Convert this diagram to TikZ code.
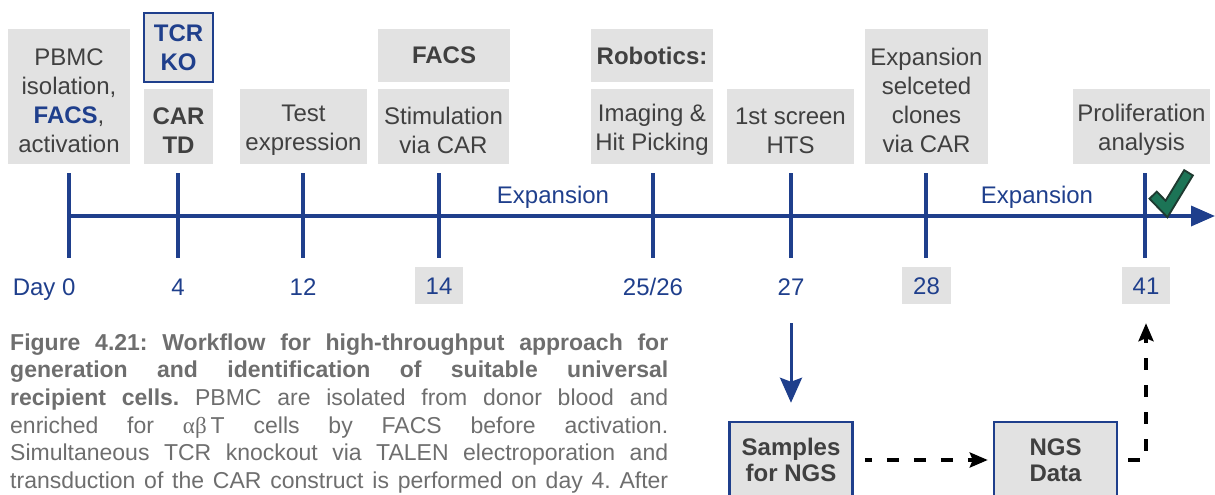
\documentclass[tikz,border=0pt]{standalone}
\usepackage{fontspec}
\setmainfont{Liberation Sans}
\newfontfamily\greekserif{Liberation Serif}
\usetikzlibrary{arrows.meta}
\definecolor{boxgray}{HTML}{E2E2E2}
\definecolor{txtgray}{HTML}{404040}
\definecolor{navy}{HTML}{1F3F8C}
\definecolor{capgray}{HTML}{6E6E6E}
\definecolor{checkgreen}{HTML}{1C7456}
\definecolor{checkdark}{HTML}{1E3A30}
\newcommand\capline[1]{\hbox to 658pt{\frenchspacing\spaceskip=0.278em plus 1fil\relax #1}}
\newcommand\topstrut{\rule{0pt}{24.5pt}}
\begin{document}
\begin{tikzpicture}[x=1pt,y=-1pt,
  gbox/.style={fill=boxgray, inner sep=0pt, text=txtgray, align=center, font=\fontsize{24}{29}\selectfont},
  sz/.style 2 args={minimum width=#1pt, minimum height=#2pt},
  daylab/.style={text=navy, inner sep=0pt, font=\fontsize{24}{29}\selectfont, text height=17pt, text depth=0pt},
  daybox/.style={daylab, fill=boxgray, minimum width=48pt, minimum height=37pt},
  tickline/.style={draw=navy, line width=3.5pt},
  explab/.style={text=navy, inner sep=0pt, font=\fontsize{24}{29}\selectfont, anchor=base},
  ngsbox/.style={fill=boxgray, draw=navy, line width=2.5pt, inner sep=0pt, text=txtgray, align=center, font=\fontsize{24}{26}\selectfont\bfseries, minimum width=123pt, minimum height=76pt},
  dasharrow/.style={draw=black, line width=3.5pt, dash pattern=on 12pt off 15pt, -{Stealth[length=18pt,width=15pt,inset=3pt]}},
  bluearrow/.style={draw=navy, line width=3pt, -{Stealth[length=25pt,width=22pt,inset=4pt]}},
]
\useasboundingbox (0,0) rectangle (1215,495);

% top boxes
\node[gbox, sz={122}{135}] (pbmc) at (69,96.5) {\topstrut PBMC\\isolation,\\{\bfseries\color{navy}FACS},\\activation};
\node[gbox, sz={69}{69}, draw=navy, line width=2.5pt, text=navy, font=\fontsize{24}{29}\selectfont\bfseries] (tcrko) at (178.5,47.5) {TCR\\KO};
\node[gbox, sz={69}{75}, font=\fontsize{24}{29}\selectfont\bfseries] (cartd) at (178.5,126.5) {\topstrut CAR\\TD};
\node[gbox, sz={127}{75}] (test) at (303.5,126.5) {\topstrut Test\\expression};
\node[gbox, sz={132}{53}, font=\fontsize{24}{29}\selectfont\bfseries] (facs) at (444,55.5) {FACS};
\node[gbox, sz={131}{75}] (stim) at (443.5,126.5) {\topstrut Stimulation\\via CAR};
\node[gbox, sz={122}{53}, font=\fontsize{24}{29}\selectfont\bfseries] (robo) at (652,55.5) {Robotics:};
\node[gbox, sz={122}{75}] (imag) at (652,126.5) {\topstrut Imaging \&\\Hit Picking};
\node[gbox, sz={127}{75}] (hts) at (790.5,126.5) {\topstrut 1st screen\\HTS};
\node[gbox, sz={123}{135}] (expsel) at (926.5,96.5) {\topstrut Expansion\\selceted\\clones\\via CAR};
\node[gbox, sz={137}{75}] (prolif) at (1141.5,126.5) {\topstrut Proliferation\\analysis};

% timeline
\coordinate (tlstart) at (69,216);
\coordinate (tlend) at (1215,216);
\draw[navy, line width=3.5pt, -{Triangle[length=24pt,width=20pt]}] (tlstart) -- (tlend);
\foreach \x/\n in {69/0,178/1,303/2,439/3,653/4,791/5,926/6,1145/7}{
  \coordinate (tt\n) at (\x,173);
  \coordinate (tb\n) at (\x,258);
  \draw[tickline] (tt\n) -- (tb\n);
}
\node[explab] (exp1) at (553,203) {Expansion};
\node[explab] (exp2) at (1037,203) {Expansion};

% check mark
\coordinate (ck1) at (1152.5,194.5);
\coordinate (ck2) at (1166.5,209);
\coordinate (ck3) at (1189,172);
\draw[checkdark, line width=12pt, line join=miter] (ck1) -- (ck2) -- (ck3);
\draw[checkgreen, line width=8pt, line join=miter, shorten <=2pt, shorten >=2pt] (ck1) -- (ck2) -- (ck3);

% day labels
\node[daylab, anchor=east] (d0) at (75.7,286.5) {Day 0};
\node[daylab] (d4) at (178,286.5) {4};
\node[daylab] (d12) at (303,286.5) {12};
\node[daybox] (d14) at (439,285.5) {14};
\node[daylab] (d25) at (653,286.5) {25/26};
\node[daylab] (d27) at (791,286.5) {27};
\node[daybox, minimum width=49pt] (d28) at (926.5,285.5) {28};
\node[daybox] (d41) at (1146,285.5) {41};

% lower boxes
\node[ngsbox] (samples) at (791,460) {Samples\\for NGS};
\node[ngsbox] (ngs) at (1055.5,460) {NGS\\Data};

\draw[bluearrow, shorten <=28pt, shorten >=18pt] (d27) -- (samples);
\draw[dasharrow, dash phase=5pt, shorten <=11pt, shorten >=5pt] (samples) -- (ngs);
\draw[dasharrow, shorten <=10pt, shorten >=19pt] (ngs.east) -| (d41.south);

% caption
\node[anchor=north west, inner sep=0pt, text=capgray, font=\fontsize{23}{27.6}\selectfont, align=left, text width=658pt] (cap) at (10,333.5) {%
\capline{\bfseries Figure 4.21: Workflow for high-throughput approach for}
\capline{\bfseries generation and identification of suitable universal}
\capline{{\bfseries recipient cells.} PBMC are isolated from donor blood and}
\capline{enriched for {\greekserif αβ}\hspace{4pt}T cells by FACS before activation.}
\capline{Simultaneous TCR knockout via TALEN electroporation and}
\capline{transduction of the CAR construct is performed on day 4. After}};
\end{tikzpicture}
\end{document}
